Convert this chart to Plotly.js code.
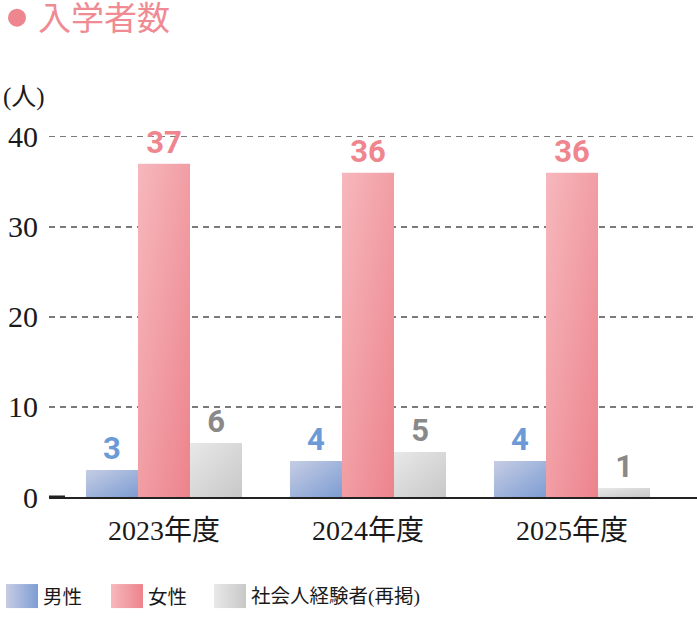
<!DOCTYPE html>
<html><head><meta charset="utf-8">
<script src="https://cdn.plot.ly/plotly-3.0.1.min.js"></script>
<style>html,body{margin:0;padding:0;background:#fff;}#chart{width:697px;height:631px;}</style>
</head><body><div id="chart"></div>
<script>
const categories = ['2023年度', '2024年度', '2025年度'];
const seriesNames = ['男性', '女性', '社会人経験者(再掲)'];
const male = [3, 4, 4];
const female = [37, 36, 36];
const career = [6, 5, 1];
const yTicks = [0, 10, 20, 30, 40];

const W = 697, H = 631;
const YMAX = 40.2;
const L = 49, R = 0, B = 134;
const PH = (H - B - 137) * YMAX / 40;
const T = H - B - PH;
const PW = W - L - R;
const px = x => (x - L) / PW;
const py = y => (T + PH - y) / PH;

const gradStops = [
  ['#c6cde4', '#7d9dd3'],
  ['#f6b8bd', '#ed838c'],
  ['#e8e8e8', '#c8c8c8']
];
const labelColors = ['#6b9ad7', '#ef858e', '#898989'];
const solid = ['#a3b5dc', '#f19fa6', '#d8d8d8'];
const valueFont = {family: '"Liberation Sans Narrow", Roboto, sans-serif', size: 31, weight: 'bold'};

const seriesVals = [male, female, career];
const data = seriesVals.map((vals, i) => ({
  type: 'bar',
  x: categories,
  y: vals,
  name: seriesNames[i],
  marker: {color: solid[i], line: {width: 0}},
  text: vals.map(String),
  textposition: 'outside',
  textfont: Object.assign({color: labelColors[i]}, valueFont),
  constraintext: 'none',
  cliponaxis: false,
  hoverinfo: 'none'
}));

// legend swatches + labels (drawn in paper coords)
const legendX = [6, 111, 214];
const shapes = [];
const annotations = [];
legendX.forEach((lx, i) => {
  shapes.push({type: 'rect', xref: 'paper', yref: 'paper',
    x0: px(lx), x1: px(lx + 32), y0: py(608), y1: py(584),
    fillcolor: solid[i], line: {width: 0}});
  annotations.push({xref: 'paper', yref: 'paper', x: px(lx + 35), y: py(597),
    xanchor: 'left', yanchor: 'middle', showarrow: false, text: seriesNames[i],
    font: {family: '"Liberation Serif", "Noto Sans CJK JP", serif', size: 19.5, color: '#1a1a1a'}});
});
// short thick stub at zero
shapes.push({type: 'line', xref: 'paper', yref: 'y', x0: 0, x1: px(65), y0: 0, y1: 0,
  line: {color: '#222', width: 3}});
// title bullet
shapes.push({type: 'circle', xref: 'paper', yref: 'paper',
  x0: px(8), x1: px(26), y0: py(27), y1: py(9), fillcolor: '#ee8690', line: {width: 0}});
annotations.push({xref: 'paper', yref: 'paper', x: px(36), y: py(19.5), xanchor: 'left', yanchor: 'middle',
  showarrow: false, text: '入学者数',
  font: {family: '"Liberation Serif", "Noto Sans CJK JP", sans-serif', size: 33, color: '#f08a93'}});
annotations.push({xref: 'paper', yref: 'paper', x: px(1), y: py(97), xanchor: 'left', yanchor: 'middle',
  showarrow: false, text: '(人)',
  font: {family: '"Liberation Serif", "Noto Sans CJK JP", serif', size: 25, color: '#1a1a1a'}});

const layout = {
  width: W, height: H,
  margin: {l: L, r: R, t: T, b: B, pad: 0},
  paper_bgcolor: '#fff', plot_bgcolor: '#fff',
  showlegend: false,
  barmode: 'group', bargap: 0.235, bargroupgap: 0,
  xaxis: {
    type: 'category', range: [-0.5637, 2.6127], fixedrange: true,
    showline: true, linecolor: '#222', linewidth: 1.5, ticks: '', showgrid: false,
    ticklabelstandoff: 8,
    tickfont: {family: '"Liberation Serif", "Noto Sans CJK JP", serif', size: 28, color: '#1a1a1a'}
  },
  yaxis: {
    range: [0, YMAX], tickvals: yTicks, ticktext: yTicks.map(String), fixedrange: true,
    showline: false, zeroline: false, ticks: '',
    showgrid: true, gridcolor: '#7a7a7a', gridwidth: 1.3, griddash: '6px,5px',
    ticklabelstandoff: 10,
    tickfont: {family: '"Liberation Serif", serif', size: 30, color: '#1a1a1a'}
  },
  shapes: shapes,
  annotations: annotations
};

Plotly.newPlot('chart', data, layout, {staticPlot: true, displayModeBar: false}).then(gd => {
  const NS = 'http://www.w3.org/2000/svg';
  const svg = gd.querySelector('.main-svg');
  let defs = svg.querySelector('defs');
  if (!defs) { defs = document.createElementNS(NS, 'defs'); svg.insertBefore(defs, svg.firstChild); }
  function addGrad(id, c1, c2, x2, y2) {
    const g = document.createElementNS(NS, 'linearGradient');
    g.setAttribute('id', id);
    g.setAttribute('x1', '0'); g.setAttribute('y1', '0');
    g.setAttribute('x2', x2); g.setAttribute('y2', y2);
    [[0, c1], [1, c2]].forEach(([o, c]) => {
      const s = document.createElementNS(NS, 'stop');
      s.setAttribute('offset', o); s.setAttribute('stop-color', c);
      g.appendChild(s);
    });
    defs.appendChild(g);
  }
  gradStops.forEach((gs, i) => {
    addGrad('barGrad' + i, gs[0], gs[1], '1', '1');
    addGrad('legGrad' + i, gs[0], gs[1], '1', '0');
  });
  gd.querySelectorAll('.barlayer .trace').forEach((tr, i) => {
    tr.querySelectorAll('.point path').forEach(p => { p.style.fill = 'url(#barGrad' + i + ')'; });
  });
  gradStops.forEach((gs, i) => {
    gd.querySelectorAll('.shapelayer path[data-index="' + i + '"]').forEach(p => { p.style.fill = 'url(#legGrad' + i + ')'; });
  });
});
</script>
</body></html>
